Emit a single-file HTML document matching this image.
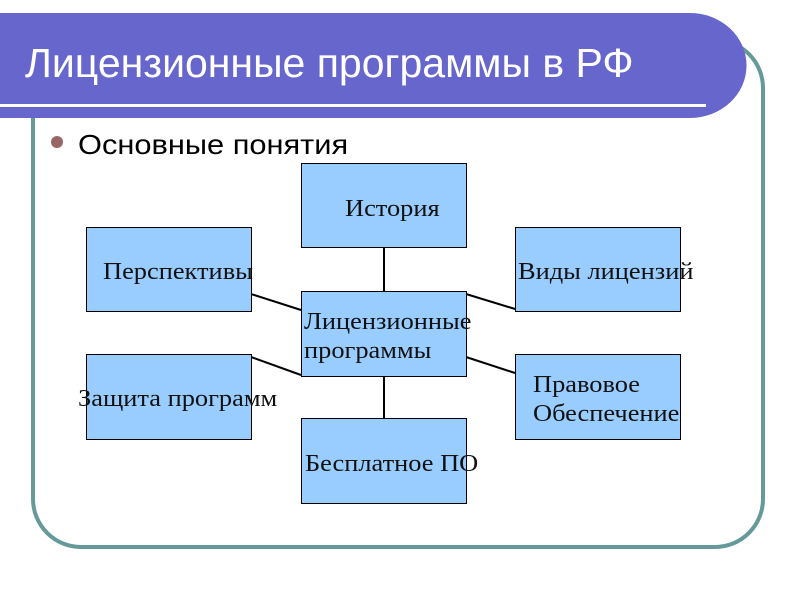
<!DOCTYPE html>
<html><head><meta charset="utf-8"><style>
body{margin:0;width:800px;height:600px;background:#fff;position:relative;overflow:hidden;font-family:"Liberation Sans","DejaVu Sans",sans-serif}
.b{position:absolute;background:#99CCFF;border:1px solid #000;box-sizing:border-box}
.t{position:absolute;font-family:"Liberation Serif","DejaVu Serif",serif;font-size:24px;color:#111;white-space:nowrap;line-height:29px;transform:scaleX(1.1);transform-origin:0 0}
</style></head><body>
<svg width="800" height="600" style="position:absolute;left:0;top:0">
<rect x="33" y="40" width="730" height="507" rx="48" ry="48" fill="none" stroke="#669999" stroke-width="4"/>
<path d="M0 13 H690 A56 52 0 0 1 690 118 H0 Z" fill="#6666CC"/>
<rect x="0" y="104" width="706" height="3" fill="#fff"/>
<g stroke="#000" stroke-width="2">
<line x1="384" y1="247" x2="384" y2="291"/>
<line x1="384" y1="376" x2="384" y2="418"/>
<line x1="251" y1="294" x2="301" y2="310"/>
<line x1="251" y1="357" x2="301" y2="375"/>
<line x1="466" y1="294" x2="515" y2="309"/>
<line x1="466" y1="357" x2="515" y2="373"/>
</g>
<circle cx="57" cy="142" r="6" fill="#996666"/>
</svg>
<div style="position:absolute;left:25px;top:38px;color:#fff;font-size:41px;line-height:50px;white-space:nowrap">Лицензионные программы в РФ</div>
<div style="position:absolute;left:78px;top:128px;color:#000;font-size:28px;line-height:34px;transform:scaleX(1.1);transform-origin:0 0;white-space:nowrap">Основные понятия</div>
<div class="b" style="left:301px;top:163px;width:166px;height:85px"></div>
<div class="b" style="left:86px;top:227px;width:166px;height:85px"></div>
<div class="b" style="left:515px;top:227px;width:166px;height:85px"></div>
<div class="b" style="left:301px;top:291px;width:166px;height:86px"></div>
<div class="b" style="left:86px;top:354px;width:166px;height:86px"></div>
<div class="b" style="left:515px;top:354px;width:166px;height:86px"></div>
<div class="b" style="left:301px;top:418px;width:166px;height:86px"></div>
<div class="t" style="left:345px;top:195px">История</div>
<div class="t" style="left:103px;top:258px">Перспективы</div>
<div class="t" style="left:518px;top:258px">Виды лицензий</div>
<div class="t" style="left:304px;top:308px">Лицензионные<br>программы</div>
<div class="t" style="left:78px;top:385px">Защита программ</div>
<div class="t" style="left:533px;top:371px">Правовое<br>Обеспечение</div>
<div class="t" style="left:305px;top:450px">Бесплатное ПО</div>
</body></html>
